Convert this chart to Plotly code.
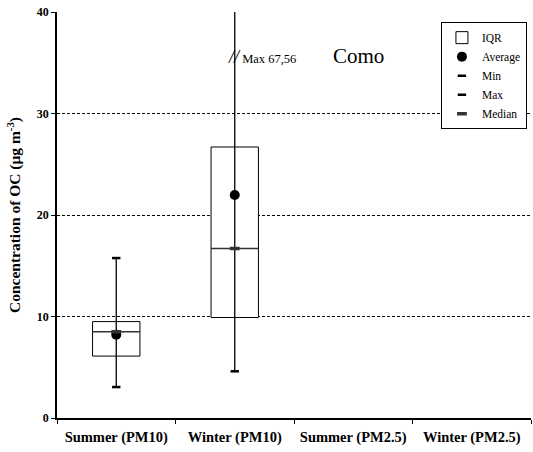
import plotly.graph_objects as go

categories = ["Summer (PM10)", "Winter (PM10)", "Summer (PM2.5)", "Winter (PM2.5)"]
box_cats = ["Summer (PM10)", "Winter (PM10)"]
q1 = [6.1, 9.9]
q3 = [9.5, 26.7]
median = [8.5, 16.7]
average = [8.2, 21.97]
vmin = [3.05, 4.6]
vmax = [15.76, 67.56]

FONT = "Liberation Serif"

fig = go.Figure()

# IQR boxes
fig.add_trace(go.Bar(
    x=box_cats, base=q1, y=[b - a for a, b in zip(q1, q3)], width=0.4,
    marker=dict(color="white", line=dict(color="black", width=1)),
    name="IQR", showlegend=True,
))
# whiskers (min to max)
fig.add_trace(go.Scatter(
    x=box_cats, y=median, mode="markers", marker=dict(size=0.1, color="black"),
    error_y=dict(type="data", symmetric=False,
                 array=[b - m for b, m in zip(vmax, median)],
                 arrayminus=[m - a for a, m in zip(vmin, median)],
                 width=0, thickness=1.3, color="black"),
    showlegend=False, hoverinfo="skip",
))
# median line across box
fig.add_trace(go.Scatter(
    x=box_cats, y=median, mode="markers",
    marker=dict(symbol="line-ew", size=34, line=dict(color="#333", width=1.5)),
    showlegend=False, hoverinfo="skip",
))
# average
fig.add_trace(go.Scatter(
    x=box_cats, y=average, mode="markers", name="Average",
    marker=dict(symbol="circle", size=10, color="black"),
))
# min
fig.add_trace(go.Scatter(
    x=box_cats, y=vmin, mode="markers", name="Min",
    marker=dict(symbol="line-ew", size=6, line=dict(color="black", width=2.5)),
))
# max
fig.add_trace(go.Scatter(
    x=box_cats, y=vmax, mode="markers", name="Max",
    marker=dict(symbol="line-ew", size=6, line=dict(color="black", width=2.5)),
))
# median marker
fig.add_trace(go.Scatter(
    x=box_cats, y=median, mode="markers", name="Median",
    marker=dict(symbol="line-ew", size=7, line=dict(color="#333", width=3.5)),
))

fig.add_annotation(x="Winter (PM10)", y=35.6,
                   text="<span style='font-size:18px'><i>//</i></span> Max 67,56",
                   showarrow=False, xanchor="left", xshift=-9,
                   font=dict(family=FONT, size=12.5, color="black"))
fig.add_annotation(x="Summer (PM2.5)", y=35.7, text="Como",
                   showarrow=False, xshift=5,
                   font=dict(family=FONT, size=21, color="black"))

fig.update_layout(
    width=533, height=452,
    margin=dict(l=57, r=2, t=12, b=34, autoexpand=False),
    plot_bgcolor="white", paper_bgcolor="white",
    font=dict(family=FONT, color="black"),
    showlegend=True,
    legend=dict(x=0.81, y=0.975, xanchor="left", yanchor="top",
                bordercolor="black", borderwidth=1, bgcolor="white",
                font=dict(family=FONT, size=11.5, color="black"),
                itemwidth=30, tracegroupgap=0),
    xaxis=dict(type="category", categoryorder="array", categoryarray=categories,
               range=[-0.5, 3.5], tickson="boundaries", ticks="outside",
               ticklen=4, tickcolor="black", showline=True, linecolor="black",
               linewidth=1.5, showgrid=False, ticklabelstandoff=5, tickangle=0,
               automargin=False,
               tickfont=dict(family=FONT, size=14.5, color="black", weight="bold")),
    yaxis=dict(range=[0, 40], tickvals=[0, 10, 20, 30, 40], ticks="outside",
               ticklen=4, tickcolor="black", showline=True, linecolor="black",
               linewidth=1.5, showgrid=True, gridcolor="black", gridwidth=0.7,
               griddash="3px,2px", zeroline=False, automargin=False,
               tickfont=dict(family=FONT, size=12, color="black", weight="bold"),
               title=dict(text="<b>Concentration of OC (μg m<sup>-3</sup>)</b>",
                          font=dict(family=FONT, size=15.5, color="black"),
                          standoff=12)),
)

fig.write_html("out.html")
